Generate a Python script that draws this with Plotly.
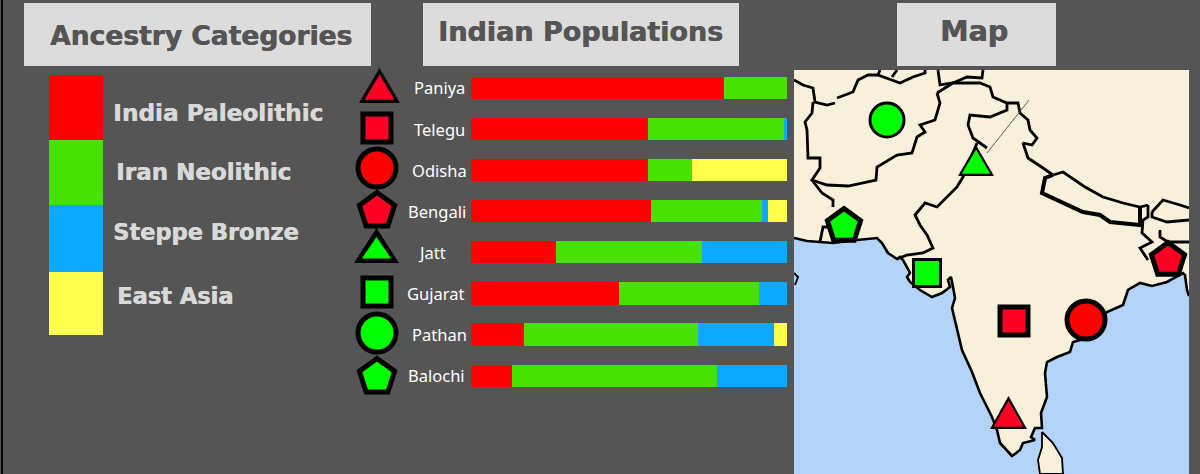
"""Ancestry of Indian populations: stacked bars, key and map."""

import plotly.graph_objects as go

W, H = 1200, 474

populations = ["Paniya", "Telegu", "Odisha", "Bengali", "Jatt", "Gujarat", "Pathan", "Balochi"]
india_paleolithic = [80, 56, 56, 57, 27, 47, 17, 13]
iran_neolithic = [20, 43, 14, 35, 46, 44, 55, 65]
steppe_bronze = [0, 1, 0, 2, 27, 9, 24, 22]
east_asia = [0, 0, 30, 6, 0, 0, 4, 0]

categories = ["India Paleolithic", "Iran Neolithic", "Steppe Bronze", "East Asia"]
category_colors = ["#ff0000", "#47e204", "#0da8ff", "#ffff4d"]
key_shares = [65, 65, 67, 63]

symbols = ["triangle-up", "square", "circle", "pentagon", "triangle-up", "square", "circle", "pentagon"]
symbol_colors = ["#ff0024", "#ff0024", "#ff0000", "#ff0024", "#00ff00", "#00ff00", "#00ff00", "#00ff00"]

# symbol column next to the bars
column_x = [379, 377, 377, 377, 376, 377, 377, 377]
column_y = [88, 128, 168, 211, 245, 292, 333, 377]

# map positions of the populations, in map units
map_x = [1009, 1014, 1086, 1168, 975, 927, 887, 844]
map_y = [418, 321, 320, 260, 168, 273, 120, 226]

coast = [
    (794, 238), (807, 241), (820, 242), (833, 243), (857, 240), (877, 238), (882, 243), (888, 253),
    (897, 259), (900, 257), (903, 260), (907, 268), (910, 273), (907, 277), (910, 282), (920, 290),
    (932, 297), (942, 293), (950, 287), (948, 280), (951, 277), (953, 287), (955, 298), (952, 308),
    (957, 330), (962, 350), (972, 372), (980, 393), (992, 417), (997, 430), (1000, 443), (1012, 456),
    (1020, 450), (1023, 443), (1035, 440), (1031, 437), (1035, 428), (1042, 428), (1041, 413), (1047, 397),
    (1045, 373), (1047, 362), (1057, 357), (1070, 352), (1073, 342), (1087, 338), (1107, 312), (1123, 305),
    (1128, 290), (1140, 283), (1152, 286), (1167, 282), (1183, 273), (1185, 275), (1187, 290), (1189, 296),
]
sri_lanka = [
    (1042, 432), (1053, 443), (1062, 458), (1063, 474), (1040, 474), (1038, 460), (1042, 447), (1042, 432),
]
oman_tip = [(794, 273), (798, 277), (795, 285)]

borders = [
    [(794, 80), (803, 85), (813, 88), (815, 102), (827, 105), (835, 103)],
    [(837, 98), (853, 92), (858, 80), (868, 75), (878, 75), (880, 70)],
    [(878, 75), (893, 80), (900, 83), (913, 77), (925, 73), (925, 70)],
    [(892, 77), (897, 70)],
    [(938, 70), (940, 85), (953, 83), (967, 77), (982, 78), (983, 70)],
    [(937, 93), (953, 83), (980, 83), (990, 87), (993, 97), (1007, 103), (1018, 103), (1020, 113), (1028, 120),
     (1030, 130), (1037, 138), (1032, 145), (1023, 143), (1028, 158), (1043, 168), (1053, 175)],
    [(1007, 103), (1007, 110), (990, 117), (970, 115), (968, 125), (973, 138), (987, 148)],
    [(977, 143), (963, 177), (957, 187), (947, 197), (937, 207), (925, 203), (915, 215), (920, 225), (927, 235),
     (933, 248), (923, 253), (907, 255), (897, 259)],
    [(937, 93), (940, 103), (935, 120), (920, 125), (925, 132), (917, 137), (912, 153), (897, 155), (877, 167),
     (876, 180), (848, 186), (827, 185), (812, 180), (820, 168), (820, 158), (808, 158), (807, 130), (805, 122),
     (812, 113), (813, 102)],
    [(812, 180), (822, 193), (833, 200), (833, 207)],
    [(820, 242), (823, 227), (828, 227)],
    [(1053, 175), (1063, 172), (1085, 187), (1103, 197), (1123, 203), (1140, 207), (1148, 205)],
    [(1148, 205), (1148, 217), (1143, 220), (1142, 233), (1152, 242), (1140, 248), (1148, 260)],
    [(1152, 212), (1163, 200), (1180, 205), (1189, 208)],
    [(1189, 220), (1167, 222), (1152, 217), (1152, 212)],
    [(1160, 230), (1160, 237), (1168, 242), (1189, 242)],
]
nepal_south = [
    (1053, 175), (1045, 178), (1042, 193), (1057, 200), (1083, 212), (1100, 215), (1110, 222), (1140, 225),
    (1140, 208),
]
kashmir_line = [(987, 153), (1029, 100)]

# plotly's triangle marker is too flat, these four are drawn as filled paths:
# left, right, top, bottom, stroke
triangle_spans = [
    (359, 400, 68, 103, 3.2),
    (354, 399, 228, 263, 4.5),
    (958, 994, 145, 176, 2.2),
    (990, 1027, 396, 429, 2.2),
]
triangle_colors = ["#ff0024", "#00ff00", "#00ff00", "#ff0024"]


def px(x):
    return x / W


def py(y):
    return 1 - y / H


def path(points, width=2, color="black", axes=("x2", "y2"), **kw):
    return go.Scatter(
        x=[p[0] for p in points],
        y=[p[1] for p in points],
        mode="lines",
        line=dict(color=color, width=width),
        xaxis=axes[0],
        yaxis=axes[1],
        hoverinfo="skip",
        **kw,
    )


def triangle(left, right, top, bottom, inset=0.0):
    mid = (left + right) / 2
    half = (right - left) / 2 - inset * 1.73
    return [(mid - half, bottom - inset), (mid + half, bottom - inset), (mid, top + inset * 2), (mid - half, bottom - inset)]


def symbol_trace(xs, ys, sizes, widths, axes):
    # triangles are skipped here, see triangle_spans
    keep = [i for i, s in enumerate(symbols) if s != "triangle-up"]
    return go.Scatter(
        x=[xs[i] for i in keep],
        y=[ys[i] for i in keep],
        mode="markers",
        marker=dict(
            symbol=[symbols[i] for i in keep],
            color=[symbol_colors[i] for i in keep],
            size=[sizes[i] for i in keep],
            opacity=1,
            line=dict(color="black", width=[widths[i] for i in keep]),
        ),
        xaxis=axes[0],
        yaxis=axes[1],
        cliponaxis=False,
    )


fig = go.Figure()

# stacked bars
series = [india_paleolithic, iran_neolithic, steppe_bronze, east_asia]
for name, vals, color in zip(categories, series, category_colors):
    fig.add_trace(go.Bar(y=populations, x=vals, name=name, orientation="h", marker=dict(color=color, line_width=0)))

# colour key
for name, share, color in zip(categories, key_shares, category_colors):
    fig.add_trace(go.Bar(x=["key"], y=[share], name=name, width=1, marker=dict(color=color, line_width=0), xaxis="x3", yaxis="y3"))

# map
fig.add_trace(path([(794, 70), (1189, 70)] + coast[::-1] + [(794, 238)], width=0, fill="toself", fillcolor="#f8f0da"))
fig.add_trace(path(coast, width=2.6))
fig.add_trace(path(sri_lanka, width=1.8, fill="toself", fillcolor="#f8f0da"))
fig.add_trace(path(oman_tip, width=2))
for b in borders:
    fig.add_trace(path(b, width=2.8))
fig.add_trace(path(nepal_south, width=4))
fig.add_trace(path(kashmir_line, width=1, color="#6b5a48"))

# symbols next to the bars and on the map
page_axes = ("x4", "y4")
fig.add_trace(symbol_trace(column_x, column_y, [0, 28, 38, 37, 0, 28, 38, 37], [0, 5, 5, 5, 0, 5, 5, 5], page_axes))
fig.add_trace(symbol_trace(map_x, map_y, [0, 28, 38, 35, 0, 27, 34, 35], [0, 5, 5, 5, 0, 3, 3, 5], ("x2", "y2")))
for i, (span, color) in enumerate(zip(triangle_spans, triangle_colors)):
    axes = page_axes if i < 2 else ("x2", "y2")
    left, right, top, bottom, stroke = span
    fig.add_trace(path(triangle(left, right, top, bottom), width=0, axes=axes, fill="toself", fillcolor="black"))
    fig.add_trace(path(triangle(left, right, top, bottom, stroke), width=0, axes=axes, fill="toself", fillcolor=color))

hidden = dict(visible=False, fixedrange=True)
fig.update_layout(
    width=W,
    height=H,
    margin=dict(l=0, r=0, t=0, b=0),
    paper_bgcolor="#555555",
    plot_bgcolor="rgba(0,0,0,0)",
    showlegend=False,
    barmode="stack",
    bargap=0.46,
    xaxis=dict(domain=[px(470.5), px(787)], range=[0, 100], **hidden),
    yaxis=dict(
        domain=[py(396.2), py(67.45)],
        categoryorder="array",
        categoryarray=populations,
        range=[7.5, -0.5],
        **hidden,
    ),
    xaxis2=dict(domain=[px(794), px(1189)], range=[794, 1189], anchor="y2", **hidden),
    yaxis2=dict(domain=[0, py(70)], range=[474, 70], anchor="x2", **hidden),
    xaxis3=dict(domain=[px(49), px(103)], anchor="y3", **hidden),
    yaxis3=dict(domain=[py(335), py(75)], range=[260, 0], anchor="x3", **hidden),
    xaxis4=dict(domain=[0, 1], range=[0, W], anchor="y4", **hidden),
    yaxis4=dict(domain=[0, 1], range=[H, 0], anchor="x4", **hidden),
)

# sea behind the map, title boxes, left rule
fig.add_shape(type="rect", xref="paper", yref="paper", x0=px(794), x1=px(1189), y0=0, y1=py(70),
              fillcolor="#b3d4f8", line_width=0, layer="below")
for x0, x1 in [(24, 371), (423, 739), (897, 1056)]:
    fig.add_shape(type="rect", xref="paper", yref="paper", x0=px(x0), x1=px(x1), y0=py(66), y1=py(3),
                  fillcolor="#dcdcdc", line_width=0, layer="below")
fig.add_shape(type="line", xref="paper", yref="paper", x0=px(2), x1=px(2), y0=0, y1=1,
              line=dict(color="black", width=2), layer="below")

# the reference text is a heavier bold, a small shadow thickens it
bold = "DejaVu Sans"
for text, x, y, size in [("Ancestry Categories", 201, 36, 26.5), ("Indian Populations", 580, 32, 27), ("Map", 974, 32, 28.5)]:
    fig.add_annotation(text=f"<b>{text}</b>", xref="paper", yref="paper", x=px(x), y=py(y), showarrow=False,
                       xanchor="center", yanchor="middle",
                       font=dict(family=bold, size=size, color="#555555", shadow="0.6px 0 0 #555555"))

for text, x, y, size in zip(categories, [217.5, 203, 205.5, 175], [112, 172, 232, 296], [23.2, 23, 22.5, 22.5]):
    fig.add_annotation(text=f"<b>{text}</b>", xref="paper", yref="paper", x=px(x), y=py(y), showarrow=False,
                       xanchor="center", yanchor="middle",
                       font=dict(family=bold, size=size, color="#d9d9d9", shadow="0.6px 0 0 #d9d9d9"))

for text, x in zip(populations, [439, 439, 439, 437, 432, 435, 439, 436]):
    fig.add_annotation(text=text, xref="paper", yref="y", x=px(x), y=text, showarrow=False,
                       xanchor="center", yanchor="middle", font=dict(family="Noto Sans", size=16.5, color="white"))

fig.write_html("out.html", config=dict(displayModeBar=False),
               post_script="document.body.style.margin='0';document.body.style.overflow='hidden';")
